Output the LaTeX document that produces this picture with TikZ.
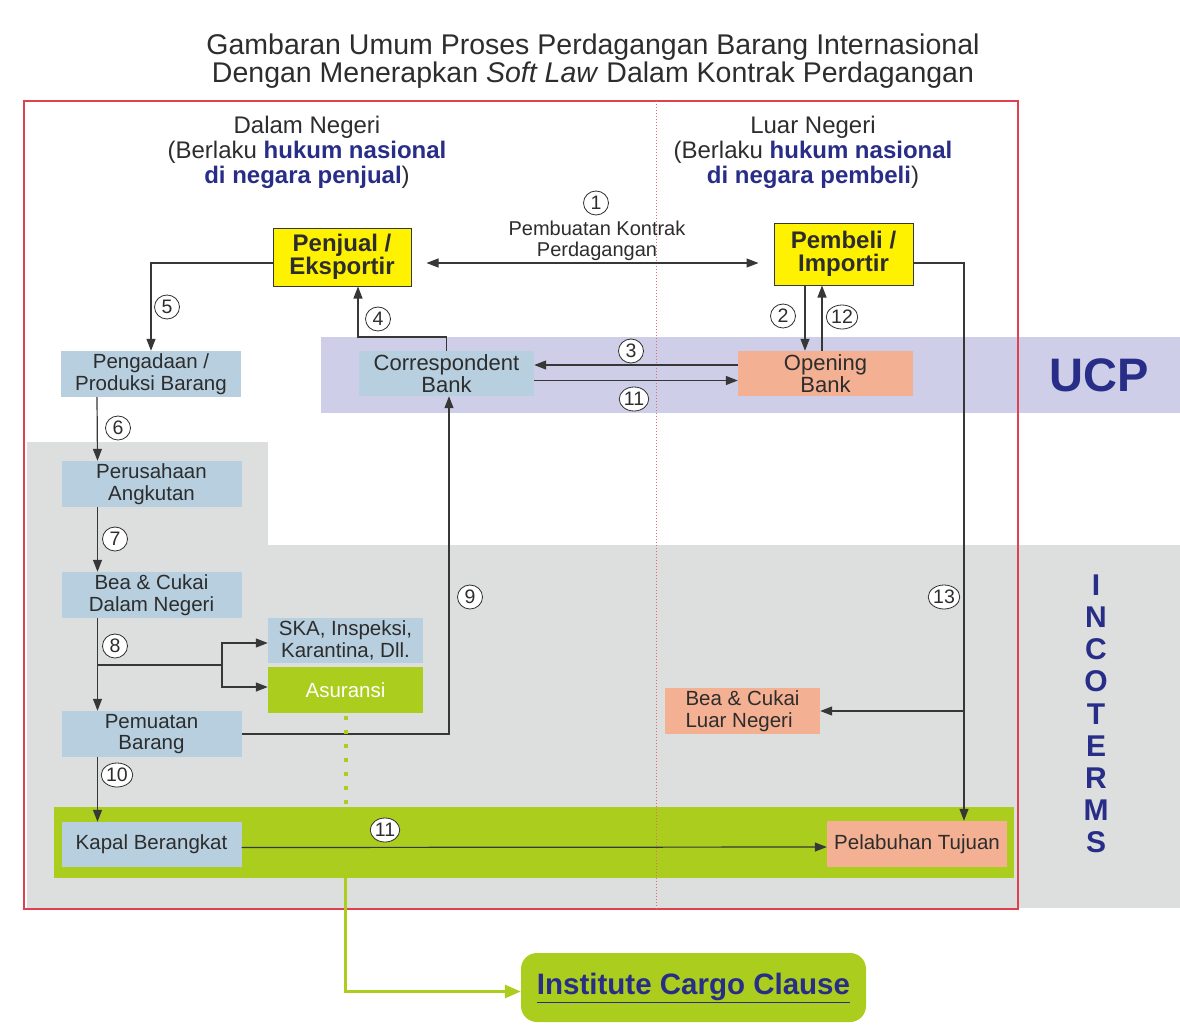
\documentclass[tikz,border=0pt]{standalone}
\usepackage{fontspec}
\setmainfont{Liberation Sans}
\usetikzlibrary{calc}
\usetikzlibrary{arrows.meta}
\usetikzlibrary{shapes.geometric}

\definecolor{framered}{RGB}{222,66,78}
\definecolor{txtgray}{RGB}{45,45,45}
\definecolor{linegray}{RGB}{55,55,55}
\definecolor{navy}{RGB}{40,45,135}
\definecolor{boxblue}{RGB}{183,207,222}
\definecolor{salmon}{RGB}{244,176,146}
\definecolor{yelbox}{RGB}{255,242,0}
\definecolor{ucpband}{RGB}{206,206,232}
\definecolor{graybg}{RGB}{221,223,223}
\definecolor{ygreen}{RGB}{170,205,30}

\tikzset{
  box/.style={minimum width=180pt, minimum height=46pt, inner sep=0pt, align=center,
    text=txtgray, font=\fontsize{20.5}{21.5}\selectfont},
  bluebox/.style={box, fill=boxblue},
  pinkbox/.style={box, fill=salmon},
  bankbox/.style={box, minimum width=175pt, minimum height=45pt, font=\fontsize{22}{22}\selectfont},
  actor/.style={box, fill=yelbox, draw=linegray, line width=1pt,
    font=\fontsize{24}{23.5}\bfseries\selectfont},
  num/.style={ellipse, draw=txtgray, fill=white, line width=0.8pt, inner sep=0.3pt,
    minimum width=25pt, minimum height=24pt, text=txtgray, font=\fontsize{19.5}{19.5}\selectfont},
  flow/.style={draw=linegray, line width=1.2pt, -{Triangle[length=12pt,width=9pt]}},
  head/.style={align=center, text=txtgray, font=\fontsize{24}{25}\selectfont},
}

\begin{document}
\begin{tikzpicture}[x=1pt, y=-1pt]
\useasboundingbox (0,0) rectangle (1180,1030);

% backgrounds
\fill[graybg] (27,442) rectangle (268,546);
\fill[graybg] (27,545) rectangle (1180,908);
\fill[ucpband] (321,337) rectangle (1180,413);
\fill[ygreen] (54,807) rectangle (1014,878);
\draw[framered, line width=1.8pt] (24,101) rectangle (1018,909);
\draw[framered!80, line width=1pt, dotted] (656,101) -- (656,909);

\coordinate (ucptop) at (0,337);
\coordinate (gbtop) at (0,807);
\coordinate (gbbot) at (0,878);

% titles
\node[align=center, text=txtgray, font=\fontsize{28.5}{28}\selectfont] (title) at (593,61)
  {Gambaran Umum Proses Perdagangan Barang Internasional\\
   Dengan Menerapkan \textit{Soft Law} Dalam Kontrak Perdagangan};
\node[head] (dalam) at (307,152) {Dalam Negeri\\(Berlaku \textcolor{navy}{\textbf{hukum nasional}}\\
  \textcolor{navy}{\textbf{di negara penjual}})};
\node[head] (luar) at (813,152) {Luar Negeri\\(Berlaku \textcolor{navy}{\textbf{hukum nasional}}\\
  \textcolor{navy}{\textbf{di negara pembeli}})};

% side labels
\node[text=navy, font=\fontsize{47}{47}\bfseries\selectfont] (ucp) at (1099,375) {UCP};
\foreach \ch [count=\i from 0] in {I,N,C,O,T,E,R,M,S}
  \node[text=navy, font=\fontsize{30}{30}\bfseries\selectfont] (inc\i) at (1096,585+32.2*\i) {\ch};

% boxes
\node[actor, minimum width=138pt, minimum height=58pt] (penjual) at (342,257) {Penjual /\\Eksportir};
\node[actor, minimum width=139pt, minimum height=62pt] (pembeli) at (843.5,254) {Pembeli /\\Importir};
\node[bluebox] (pengadaan) at (151,374) {Pengadaan /\\Produksi Barang};
\node[bluebox, bankbox] (corr) at (446.5,373.5) {Correspondent\\Bank};
\node[pinkbox, bankbox] (opening) at (825.5,373.5) {Opening\\Bank};
\node[bluebox] (perusahaan) at (151.5,484) {Perusahaan\\Angkutan};
\node[bluebox] (beadn) at (151.5,595) {Bea \& Cukai\\Dalam Negeri};
\node[bluebox, minimum width=155pt, minimum height=45pt] (ska) at (345.5,640.5) {SKA, Inspeksi,\\Karantina, Dll.};
\node[box, fill=ygreen, text=white, minimum width=155pt] (asuransi) at (345.5,690) {Asuransi};
\node[bluebox] (pemuatan) at (151.5,734) {Pemuatan\\Barang};
\node[bluebox, minimum height=45pt] (kapal) at (151.5,844.5) {Kapal Berangkat};
\node[pinkbox, align=left, minimum width=155pt] (bealn) at (742.5,711) {Bea \& Cukai\\Luar Negeri};
\node[pinkbox] (pelabuhan) at (917,844) {Pelabuhan Tujuan};
\node[fill=ygreen, rounded corners=16pt, minimum width=345pt, minimum height=69pt,
  text=navy, font=\fontsize{29.5}{29.5}\bfseries\selectfont] (icc) at (693.5,987.5) {\underline{Institute Cargo Clause}};

% contract
\node[num] (n1) at (596,203) {1};
\node[align=center, text=txtgray, font=\fontsize{20}{21}\selectfont] (kontrak) at (597,241)
  {Pembuatan Kontrak\\Perdagangan};
\path (penjual.east) ++(15,6) coordinate (ka);
\path (pembeli.west) ++(-15,9) coordinate (kb);
\draw[flow, {Triangle[length=12pt,width=9pt]}-{Triangle[length=12pt,width=9pt]}] (ka) -- (kb);

% seller side
\draw[flow] (penjual.west |- ka) -| (pengadaan.north);
\draw[flow] (corr.north) -- (corr.north |- ucptop) -| ([xshift=16pt]penjual.south);
\foreach \a/\b in {pengadaan/perusahaan, perusahaan/beadn, beadn/pemuatan, pemuatan/kapal}
  \draw[flow] ([xshift=-54pt]\a.south) -- ([xshift=-54pt]\b.north);
\coordinate (br) at (222,665);
\draw[draw=linegray, line width=1.2pt] ([xshift=-54pt]beadn.south |- br) -- (br);
\draw[flow] (br) |- ([yshift=-2.5pt]ska.west);
\draw[flow] (br) |- ([yshift=3pt]asuransi.west);
\draw[flow] (pemuatan.east) -| ([xshift=2.5pt]corr.south);

% banks
\draw[flow] ([yshift=8.5pt]opening.west) -- ([yshift=8.5pt]corr.east);
\draw[flow] ([yshift=-7pt]corr.east) -- ([yshift=-7pt]opening.west);
\draw[flow] ([xshift=-38.5pt]pembeli.south) -- ([xshift=-38.5pt]pembeli.south |- opening.north);
\draw[flow] ([xshift=-3.5pt]opening.north) -- ([xshift=-3.5pt]opening.north |- pembeli.south);

% buyer side
\draw[flow] (pembeli.east |- kb) -| ([xshift=47pt]pelabuhan.north);
\draw[flow] ([xshift=47pt]pelabuhan.north |- bealn.east) -- (bealn.east);
\draw[flow] ([yshift=-3pt]kapal.east) -- ([yshift=-3pt]pelabuhan.west);

% insurance
\draw[ygreen, line width=4pt, dash pattern=on 4pt off 10pt] (asuransi.south |- 0,716) -- (asuransi.south |- gbtop);
\draw[ygreen, line width=3pt, -{Triangle[length=16pt,width=13pt]}] (asuransi.south |- gbbot) |- ([yshift=-4pt]icc.west);

% step numbers
\node[num] (n2) at (783,316) {2};
\node[num] (n3) at (631,351) {3};
\node[num] (n4) at (378,319) {4};
\node[num] (n5) at (167,307) {5};
\node[num] (n6) at (118,428) {6};
\node[num] (n7) at (115,539) {7};
\node[num] (n8) at (115,646) {8};
\node[num] (n9) at (470,597) {9};
\node[num] (n10) at (117,775) {10};
\node[num] (n11a) at (634,399) {11};
\node[num] (n11b) at (385,830) {11};
\node[num] (n12) at (842,317) {12};
\node[num] (n13) at (944,597) {13};
\end{tikzpicture}
\end{document}
